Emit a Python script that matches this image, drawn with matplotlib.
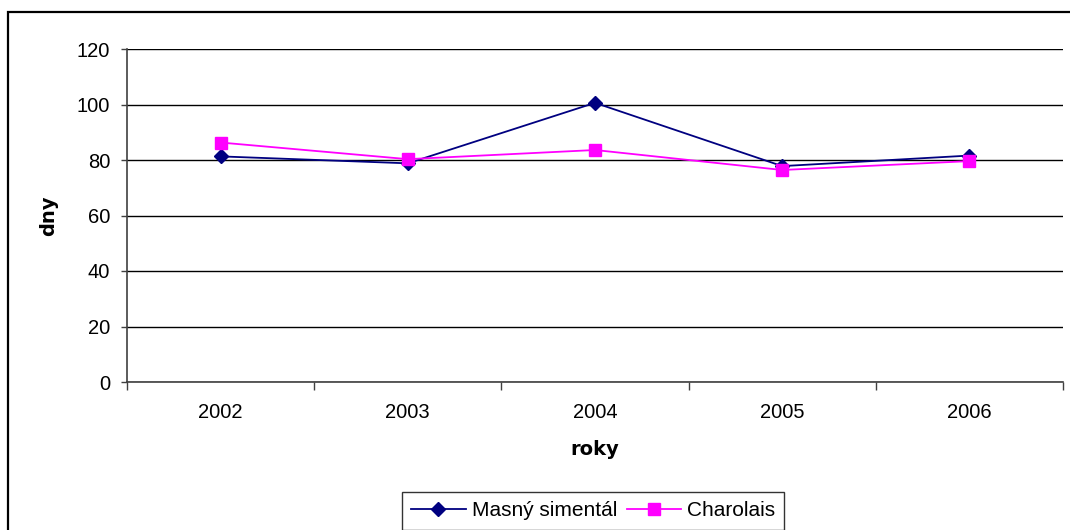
import matplotlib
matplotlib.use("Agg")
import matplotlib.pyplot as plt
from matplotlib.patches import Rectangle
import numpy as np

years = ["2002", "2003", "2004", "2005", "2006"]
masny = [81.3, 78.8, 100.6, 77.8, 81.6]
charolais = [86.3, 80.3, 83.6, 76.4, 79.6]
yticks = [0, 20, 40, 60, 80, 100, 120]

plt.rcParams['font.family'] = ['Liberation Sans', 'DejaVu Sans']

fig = plt.figure(figsize=(10.7, 5.3), dpi=100)
fig.patch.set_facecolor('white')
W, H = 1070, 530
ax = fig.add_axes([127 / W, (H - 382) / H, (1063 - 127) / W, (382 - 49) / H])

# outer chart frame
fig.patches.append(Rectangle((8 / W, -0.1), (1070 - 8 + 10) / W, (H - 12) / H + 0.1,
                             transform=fig.transFigure, fill=False,
                             edgecolor='black', linewidth=1.6, zorder=0))

x = np.arange(len(years))
ax.plot(x, masny, color='#000080', linewidth=1.3, marker='D', markersize=7.5,
        markerfacecolor='#000080', markeredgecolor='#000080', label='Masný simentál', zorder=4)
ax.plot(x, charolais, color='#FF00FF', linewidth=1.3, marker='s', markersize=8,
        markerfacecolor='#FF00FF', markeredgecolor='#FF00FF', label='Charolais', zorder=5)

ax.set_xlim(-0.5, len(years) - 0.5)
ax.set_ylim(0, 120)
ax.set_yticks(yticks)
ax.yaxis.grid(True, color='black', linewidth=1.0)
ax.set_axisbelow(True)

ax.set_xticks(x)
ax.set_xticklabels(years)
ax.set_xticks(np.arange(-0.5, len(years), 1.0), minor=True)
ax.tick_params(axis='x', which='major', length=0, pad=15, labelsize=14.5)
ax.tick_params(axis='x', which='minor', length=6, width=1, color='#404040', direction='out')
ax.tick_params(axis='y', length=4, width=1, color='#404040', direction='out', pad=8, labelsize=14.5)

for s in ['top', 'right']:
    ax.spines[s].set_visible(False)
for s in ['left', 'bottom']:
    ax.spines[s].set_color('#404040')
    ax.spines[s].set_linewidth(1.2)

ax.set_xlabel('roky', fontsize=14, fontweight='bold', family='DejaVu Sans')
ax.set_ylabel('dny', fontsize=14, fontweight='bold', family='DejaVu Sans')
ax.xaxis.label.set_va('center')
ax.yaxis.label.set_va('center')
ax.xaxis.set_label_coords(0.5, (0.151 - 0.2792) / 0.6283)
ax.yaxis.set_label_coords((49 - 127) / 936, 0.5)

leg = fig.legend(loc='upper left', bbox_to_anchor=(402 / W, (H - 492) / H), ncol=2,
                 frameon=True, fancybox=False, shadow=False, fontsize=15,
                 handlelength=2.6, handletextpad=0.3, columnspacing=0.45,
                 borderpad=0.45, borderaxespad=0)
leg.get_frame().set_edgecolor('black')
leg.get_frame().set_linewidth(1.0)

fig.savefig('out.png', dpi=100)
